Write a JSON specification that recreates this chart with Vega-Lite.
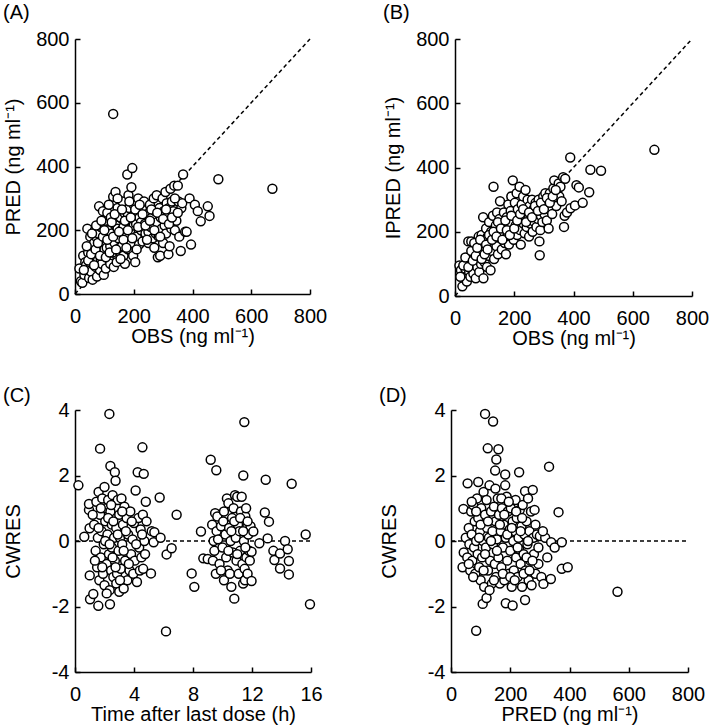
{
  "$schema": "https://vega.github.io/schema/vega-lite/v6.json",
  "background": "white",
  "padding": {"left": 3, "top": 3, "right": 5, "bottom": 5},
  "config": {
    "font": "Liberation Sans",
    "view": {"stroke": null},
    "axis": {"grid": false, "domainColor": "black", "domainWidth": 1.5, "tickColor": "black", "tickWidth": 1.5, "tickSize": -5, "labelFontSize": 20, "titleFontSize": 20, "labelColor": "black", "titleColor": "black", "titleFontWeight": "normal", "labelFont": "Liberation Sans", "titleFont": "Liberation Sans", "labelFlush": false},
    "axisX": {"labelPadding": 17, "minExtent": 30, "maxExtent": 30, "titlePadding": 2},
    "axisY": {"labelPadding": 11, "minExtent": 40, "maxExtent": 40, "titlePadding": 12},
    "title": {"fontSize": 20, "fontWeight": "normal", "anchor": "start", "frame": "bounds", "color": "black", "font": "Liberation Sans"}
  },
  "datasets": {
    "A": [
      {"OBS":15,"PRED":80},{"OBS":20,"PRED":40},{"OBS":25,"PRED":35},{"OBS":28,"PRED":120},{"OBS":32,"PRED":60},{"OBS":35,"PRED":100},{"OBS":38,"PRED":90},{"OBS":42,"PRED":205},{"OBS":45,"PRED":130},{"OBS":48,"PRED":50},{"OBS":50,"PRED":100},{"OBS":52,"PRED":180},{"OBS":55,"PRED":70},{"OBS":58,"PRED":150},{"OBS":60,"PRED":45},{"OBS":60,"PRED":125},{"OBS":62,"PRED":115},{"OBS":65,"PRED":160},{"OBS":68,"PRED":200},{"OBS":70,"PRED":85},{"OBS":72,"PRED":130},{"OBS":75,"PRED":55},{"OBS":75,"PRED":175},{"OBS":78,"PRED":105},{"OBS":80,"PRED":190},{"OBS":82,"PRED":275},{"OBS":84,"PRED":140},{"OBS":85,"PRED":75},{"OBS":88,"PRED":210},{"OBS":88,"PRED":110},{"OBS":90,"PRED":160},{"OBS":92,"PRED":95},{"OBS":95,"PRED":120},{"OBS":95,"PRED":260},{"OBS":98,"PRED":60},{"OBS":100,"PRED":180},{"OBS":100,"PRED":140},{"OBS":102,"PRED":230},{"OBS":105,"PRED":80},{"OBS":108,"PRED":145},{"OBS":110,"PRED":255},{"OBS":112,"PRED":200},{"OBS":115,"PRED":110},{"OBS":118,"PRED":165},{"OBS":120,"PRED":95},{"OBS":120,"PRED":150},{"OBS":122,"PRED":240},{"OBS":125,"PRED":190},{"OBS":128,"PRED":130},{"OBS":130,"PRED":305},{"OBS":130,"PRED":565},{"OBS":132,"PRED":85},{"OBS":135,"PRED":160},{"OBS":138,"PRED":320},{"OBS":140,"PRED":215},{"OBS":142,"PRED":100},{"OBS":145,"PRED":270},{"OBS":145,"PRED":205},{"OBS":148,"PRED":175},{"OBS":150,"PRED":135},{"OBS":152,"PRED":145},{"OBS":155,"PRED":240},{"OBS":158,"PRED":200},{"OBS":160,"PRED":150},{"OBS":162,"PRED":290},{"OBS":165,"PRED":120},{"OBS":165,"PRED":210},{"OBS":168,"PRED":255},{"OBS":170,"PRED":95},{"OBS":172,"PRED":180},{"OBS":175,"PRED":230},{"OBS":178,"PRED":375},{"OBS":180,"PRED":140},{"OBS":180,"PRED":250},{"OBS":182,"PRED":310},{"OBS":185,"PRED":270},{"OBS":188,"PRED":200},{"OBS":190,"PRED":160},{"OBS":192,"PRED":335},{"OBS":195,"PRED":395},{"OBS":198,"PRED":120},{"OBS":200,"PRED":280},{"OBS":200,"PRED":215},{"OBS":202,"PRED":250},{"OBS":205,"PRED":100},{"OBS":208,"PRED":220},{"OBS":210,"PRED":180},{"OBS":215,"PRED":300},{"OBS":218,"PRED":155},{"OBS":220,"PRED":240},{"OBS":225,"PRED":200},{"OBS":225,"PRED":225},{"OBS":228,"PRED":270},{"OBS":230,"PRED":165},{"OBS":235,"PRED":290},{"OBS":238,"PRED":220},{"OBS":240,"PRED":190},{"OBS":245,"PRED":250},{"OBS":250,"PRED":160},{"OBS":250,"PRED":195},{"OBS":255,"PRED":280},{"OBS":258,"PRED":210},{"OBS":262,"PRED":240},{"OBS":265,"PRED":175},{"OBS":268,"PRED":300},{"OBS":270,"PRED":145},{"OBS":272,"PRED":260},{"OBS":275,"PRED":190},{"OBS":278,"PRED":310},{"OBS":280,"PRED":225},{"OBS":282,"PRED":115},{"OBS":285,"PRED":180},{"OBS":288,"PRED":270},{"OBS":290,"PRED":120},{"OBS":292,"PRED":240},{"OBS":295,"PRED":205},{"OBS":298,"PRED":300},{"OBS":300,"PRED":160},{"OBS":302,"PRED":260},{"OBS":305,"PRED":215},{"OBS":308,"PRED":320},{"OBS":310,"PRED":190},{"OBS":312,"PRED":285},{"OBS":315,"PRED":245},{"OBS":318,"PRED":125},{"OBS":320,"PRED":270},{"OBS":322,"PRED":150},{"OBS":325,"PRED":330},{"OBS":328,"PRED":205},{"OBS":330,"PRED":290},{"OBS":335,"PRED":260},{"OBS":338,"PRED":340},{"OBS":340,"PRED":200},{"OBS":345,"PRED":230},{"OBS":350,"PRED":340},{"OBS":352,"PRED":290},{"OBS":355,"PRED":180},{"OBS":360,"PRED":135},{"OBS":362,"PRED":270},{"OBS":365,"PRED":285},{"OBS":368,"PRED":375},{"OBS":375,"PRED":195},{"OBS":380,"PRED":195},{"OBS":390,"PRED":300},{"OBS":395,"PRED":155},{"OBS":408,"PRED":280},{"OBS":418,"PRED":260},{"OBS":428,"PRED":228},{"OBS":452,"PRED":275},{"OBS":458,"PRED":245},{"OBS":488,"PRED":360},{"OBS":672,"PRED":330},
      {"OBS":30,"PRED":75},{"OBS":40,"PRED":150},{"OBS":45,"PRED":105},{"OBS":55,"PRED":125},{"OBS":58,"PRED":190},{"OBS":65,"PRED":90},{"OBS":70,"PRED":140},{"OBS":72,"PRED":215},{"OBS":78,"PRED":160},{"OBS":85,"PRED":120},{"OBS":90,"PRED":230},{"OBS":95,"PRED":180},{"OBS":100,"PRED":200},{"OBS":105,"PRED":115},{"OBS":110,"PRED":170},{"OBS":115,"PRED":280},{"OBS":118,"PRED":130},{"OBS":125,"PRED":225},{"OBS":130,"PRED":180},{"OBS":135,"PRED":250},{"OBS":140,"PRED":140},{"OBS":145,"PRED":300},{"OBS":150,"PRED":195},{"OBS":155,"PRED":110},{"OBS":160,"PRED":265},{"OBS":165,"PRED":170},{"OBS":170,"PRED":230},{"OBS":175,"PRED":145},{"OBS":180,"PRED":200},{"OBS":185,"PRED":290},{"OBS":190,"PRED":240},{"OBS":195,"PRED":175},{"OBS":205,"PRED":265},{"OBS":210,"PRED":140},{"OBS":215,"PRED":210},{"OBS":220,"PRED":280},{"OBS":230,"PRED":250},{"OBS":240,"PRED":215},{"OBS":245,"PRED":170},{"OBS":255,"PRED":230},{"OBS":260,"PRED":265},{"OBS":270,"PRED":200},{"OBS":280,"PRED":255},{"OBS":290,"PRED":180},{"OBS":300,"PRED":235},{"OBS":310,"PRED":265},{"OBS":320,"PRED":220},{"OBS":330,"PRED":240},{"OBS":340,"PRED":300},{"OBS":350,"PRED":255}
    ],
    "B": [
      {"OBS":15,"IPRED":95},{"OBS":20,"IPRED":80},{"OBS":25,"IPRED":30},{"OBS":30,"IPRED":60},{"OBS":35,"IPRED":85},{"OBS":40,"IPRED":45},{"OBS":42,"IPRED":110},{"OBS":45,"IPRED":170},{"OBS":48,"IPRED":75},{"OBS":50,"IPRED":120},{"OBS":52,"IPRED":60},{"OBS":55,"IPRED":170},{"OBS":58,"IPRED":95},{"OBS":60,"IPRED":140},{"OBS":62,"IPRED":70},{"OBS":65,"IPRED":105},{"OBS":68,"IPRED":130},{"OBS":70,"IPRED":55},{"OBS":72,"IPRED":160},{"OBS":75,"IPRED":90},{"OBS":78,"IPRED":120},{"OBS":80,"IPRED":185},{"OBS":82,"IPRED":75},{"OBS":85,"IPRED":145},{"OBS":88,"IPRED":100},{"OBS":90,"IPRED":190},{"OBS":92,"IPRED":130},{"OBS":95,"IPRED":245},{"OBS":96,"IPRED":55},{"OBS":98,"IPRED":170},{"OBS":100,"IPRED":105},{"OBS":102,"IPRED":150},{"OBS":105,"IPRED":210},{"OBS":108,"IPRED":90},{"OBS":110,"IPRED":185},{"OBS":112,"IPRED":125},{"OBS":115,"IPRED":230},{"OBS":118,"IPRED":165},{"OBS":120,"IPRED":80},{"OBS":122,"IPRED":200},{"OBS":125,"IPRED":140},{"OBS":128,"IPRED":250},{"OBS":130,"IPRED":340},{"OBS":132,"IPRED":115},{"OBS":135,"IPRED":175},{"OBS":138,"IPRED":220},{"OBS":140,"IPRED":155},{"OBS":142,"IPRED":260},{"OBS":145,"IPRED":130},{"OBS":148,"IPRED":200},{"OBS":150,"IPRED":240},{"OBS":152,"IPRED":295},{"OBS":155,"IPRED":180},{"OBS":158,"IPRED":145},{"OBS":160,"IPRED":225},{"OBS":162,"IPRED":200},{"OBS":165,"IPRED":260},{"OBS":168,"IPRED":165},{"OBS":170,"IPRED":210},{"OBS":172,"IPRED":130},{"OBS":175,"IPRED":245},{"OBS":178,"IPRED":190},{"OBS":180,"IPRED":285},{"OBS":182,"IPRED":160},{"OBS":185,"IPRED":225},{"OBS":188,"IPRED":265},{"OBS":190,"IPRED":310},{"OBS":192,"IPRED":200},{"OBS":195,"IPRED":360},{"OBS":198,"IPRED":175},{"OBS":200,"IPRED":250},{"OBS":202,"IPRED":290},{"OBS":205,"IPRED":220},{"OBS":208,"IPRED":320},{"OBS":210,"IPRED":190},{"OBS":212,"IPRED":270},{"OBS":215,"IPRED":240},{"OBS":218,"IPRED":340},{"OBS":220,"IPRED":205},{"OBS":222,"IPRED":160},{"OBS":225,"IPRED":285},{"OBS":228,"IPRED":250},{"OBS":230,"IPRED":310},{"OBS":232,"IPRED":225},{"OBS":235,"IPRED":195},{"OBS":238,"IPRED":330},{"OBS":240,"IPRED":265},{"OBS":242,"IPRED":215},{"OBS":245,"IPRED":300},{"OBS":248,"IPRED":240},{"OBS":250,"IPRED":185},{"OBS":252,"IPRED":280},{"OBS":255,"IPRED":225},{"OBS":258,"IPRED":255},{"OBS":260,"IPRED":300},{"OBS":262,"IPRED":200},{"OBS":265,"IPRED":270},{"OBS":268,"IPRED":230},{"OBS":270,"IPRED":250},{"OBS":272,"IPRED":290},{"OBS":275,"IPRED":215},{"OBS":278,"IPRED":265},{"OBS":280,"IPRED":240},{"OBS":282,"IPRED":300},{"OBS":285,"IPRED":170},{"OBS":286,"IPRED":127},{"OBS":288,"IPRED":205},{"OBS":290,"IPRED":250},{"OBS":292,"IPRED":275},{"OBS":295,"IPRED":230},{"OBS":298,"IPRED":310},{"OBS":300,"IPRED":290},{"OBS":302,"IPRED":255},{"OBS":305,"IPRED":320},{"OBS":308,"IPRED":280},{"OBS":310,"IPRED":235},{"OBS":312,"IPRED":300},{"OBS":316,"IPRED":210},{"OBS":318,"IPRED":270},{"OBS":320,"IPRED":320},{"OBS":325,"IPRED":295},{"OBS":328,"IPRED":255},{"OBS":332,"IPRED":335},{"OBS":335,"IPRED":360},{"OBS":338,"IPRED":300},{"OBS":342,"IPRED":280},{"OBS":345,"IPRED":320},{"OBS":350,"IPRED":350},{"OBS":352,"IPRED":310},{"OBS":356,"IPRED":340},{"OBS":360,"IPRED":295},{"OBS":365,"IPRED":370},{"OBS":368,"IPRED":215},{"OBS":370,"IPRED":250},{"OBS":372,"IPRED":365},{"OBS":378,"IPRED":260},{"OBS":390,"IPRED":273},{"OBS":389,"IPRED":431},{"OBS":405,"IPRED":282},{"OBS":410,"IPRED":345},{"OBS":418,"IPRED":338},{"OBS":431,"IPRED":290},{"OBS":453,"IPRED":323},{"OBS":457,"IPRED":393},{"OBS":493,"IPRED":390},{"OBS":673,"IPRED":455},
      {"OBS":18,"IPRED":60},{"OBS":28,"IPRED":95},{"OBS":35,"IPRED":120},{"OBS":45,"IPRED":90},{"OBS":55,"IPRED":140},{"OBS":60,"IPRED":110},{"OBS":65,"IPRED":165},{"OBS":70,"IPRED":125},{"OBS":75,"IPRED":150},{"OBS":85,"IPRED":175},{"OBS":90,"IPRED":115},{"OBS":100,"IPRED":130},{"OBS":105,"IPRED":160},{"OBS":110,"IPRED":145},{"OBS":115,"IPRED":190},{"OBS":125,"IPRED":175},{"OBS":130,"IPRED":200},{"OBS":140,"IPRED":185},{"OBS":145,"IPRED":230},{"OBS":155,"IPRED":210},{"OBS":160,"IPRED":175},{"OBS":170,"IPRED":235},{"OBS":175,"IPRED":205},{"OBS":185,"IPRED":190},{"OBS":190,"IPRED":250},{"OBS":200,"IPRED":210},{"OBS":210,"IPRED":235},{"OBS":220,"IPRED":255},{"OBS":230,"IPRED":270},{"OBS":240,"IPRED":230},{"OBS":250,"IPRED":260},{"OBS":260,"IPRED":245},{"OBS":270,"IPRED":280},{"OBS":280,"IPRED":265},{"OBS":290,"IPRED":290},{"OBS":300,"IPRED":270},{"OBS":310,"IPRED":305},{"OBS":320,"IPRED":290},{"OBS":330,"IPRED":310},{"OBS":340,"IPRED":330}
    ],
    "C": [
      {"TIME":0.23,"CWRES":1.7},{"TIME":0.63,"CWRES":0.13},{"TIME":0.99,"CWRES":0.39},{"TIME":0.95,"CWRES":0.95},{"TIME":0.95,"CWRES":1.13},{"TIME":1.02,"CWRES":-1.78},{"TIME":1.0,"CWRES":-1.05},{"TIME":1.24,"CWRES":-1.62},{"TIME":1.3,"CWRES":0.5},{"TIME":1.4,"CWRES":-0.3},{"TIME":1.45,"CWRES":1.2},{"TIME":1.5,"CWRES":-0.8},{"TIME":1.55,"CWRES":0.1},{"TIME":1.58,"CWRES":-1.98},{"TIME":1.6,"CWRES":1.5},{"TIME":1.65,"CWRES":-1.2},{"TIME":1.7,"CWRES":2.82},{"TIME":1.7,"CWRES":0.8},{"TIME":1.75,"CWRES":-0.5},{"TIME":1.8,"CWRES":0.3},{"TIME":1.85,"CWRES":1.3},{"TIME":1.9,"CWRES":-1.0},{"TIME":1.95,"CWRES":-0.1},{"TIME":2.0,"CWRES":1.65},{"TIME":2.0,"CWRES":-1.35},{"TIME":2.05,"CWRES":0.6},{"TIME":2.1,"CWRES":1.0},{"TIME":2.15,"CWRES":-0.7},{"TIME":2.2,"CWRES":0.2},{"TIME":2.25,"CWRES":1.25},{"TIME":2.3,"CWRES":-0.4},{"TIME":2.33,"CWRES":3.88},{"TIME":2.35,"CWRES":-1.5},{"TIME":2.37,"CWRES":-1.93},{"TIME":2.4,"CWRES":2.29},{"TIME":2.4,"CWRES":0.9},{"TIME":2.45,"CWRES":-0.9},{"TIME":2.5,"CWRES":0.5},{"TIME":2.5,"CWRES":-0.2},{"TIME":2.55,"CWRES":1.4},{"TIME":2.6,"CWRES":-1.1},{"TIME":2.65,"CWRES":0.1},{"TIME":2.7,"CWRES":2.1},{"TIME":2.7,"CWRES":-0.6},{"TIME":2.75,"CWRES":1.84},{"TIME":2.8,"CWRES":0.4},{"TIME":2.8,"CWRES":-1.3},{"TIME":2.85,"CWRES":-1.0},{"TIME":2.9,"CWRES":1.25},{"TIME":2.95,"CWRES":-0.3},{"TIME":3.0,"CWRES":0.8},{"TIME":3.0,"CWRES":-1.55},{"TIME":3.05,"CWRES":0.1},{"TIME":3.1,"CWRES":-0.85},{"TIME":3.15,"CWRES":1.3},{"TIME":3.2,"CWRES":-0.1},{"TIME":3.25,"CWRES":0.5},{"TIME":3.3,"CWRES":-1.45},{"TIME":3.35,"CWRES":1.05},{"TIME":3.4,"CWRES":-0.6},{"TIME":3.5,"CWRES":0.7},{"TIME":3.55,"CWRES":-1.2},{"TIME":3.6,"CWRES":0.2},{"TIME":3.7,"CWRES":-0.9},{"TIME":3.75,"CWRES":0.9},{"TIME":3.8,"CWRES":-0.4},{"TIME":3.9,"CWRES":0.05},{"TIME":3.95,"CWRES":-1.0},{"TIME":4.0,"CWRES":0.55},{"TIME":4.05,"CWRES":-0.6},{"TIME":4.11,"CWRES":1.54},{"TIME":4.2,"CWRES":-1.25},{"TIME":4.25,"CWRES":2.1},{"TIME":4.3,"CWRES":0.7},{"TIME":4.35,"CWRES":-0.2},{"TIME":4.4,"CWRES":-0.9},{"TIME":4.45,"CWRES":0.35},{"TIME":4.5,"CWRES":-0.5},{"TIME":4.57,"CWRES":2.86},{"TIME":4.6,"CWRES":0.8},{"TIME":4.62,"CWRES":-0.85},{"TIME":4.66,"CWRES":2.05},{"TIME":4.7,"CWRES":0.0},{"TIME":4.75,"CWRES":-0.4},{"TIME":4.8,"CWRES":1.2},{"TIME":4.85,"CWRES":0.6},{"TIME":5.15,"CWRES":-0.99},{"TIME":5.2,"CWRES":0.3},{"TIME":5.33,"CWRES":-0.04},{"TIME":5.38,"CWRES":0.27},{"TIME":5.74,"CWRES":1.33},{"TIME":5.8,"CWRES":0.1},{"TIME":6.17,"CWRES":-2.76},{"TIME":6.21,"CWRES":-0.41},{"TIME":6.55,"CWRES":-0.22},{"TIME":6.89,"CWRES":0.8},
      {"TIME":7.91,"CWRES":-0.99},{"TIME":8.09,"CWRES":-1.4},{"TIME":8.54,"CWRES":0.29},{"TIME":8.7,"CWRES":-0.53},{"TIME":9.0,"CWRES":-0.55},{"TIME":9.2,"CWRES":2.48},{"TIME":9.58,"CWRES":2.16},
      {"TIME":9.3,"CWRES":0.5},{"TIME":9.35,"CWRES":-0.6},{"TIME":9.4,"CWRES":0.0},{"TIME":9.45,"CWRES":-0.3},{"TIME":9.5,"CWRES":0.85},{"TIME":9.55,"CWRES":-1.0},{"TIME":9.6,"CWRES":0.3},{"TIME":9.65,"CWRES":0.75},{"TIME":9.7,"CWRES":0.05},{"TIME":9.8,"CWRES":-0.7},{"TIME":9.9,"CWRES":0.45},{"TIME":10.0,"CWRES":-0.2},{"TIME":10.05,"CWRES":0.6},{"TIME":10.1,"CWRES":-1.2},{"TIME":10.2,"CWRES":0.2},{"TIME":10.25,"CWRES":-0.5},{"TIME":10.3,"CWRES":1.3},{"TIME":10.35,"CWRES":-0.9},{"TIME":10.4,"CWRES":1.15},{"TIME":10.45,"CWRES":0.4},{"TIME":10.5,"CWRES":-1.0},{"TIME":10.55,"CWRES":0.0},{"TIME":10.6,"CWRES":-1.4},{"TIME":10.65,"CWRES":0.7},{"TIME":10.7,"CWRES":-0.35},{"TIME":10.75,"CWRES":1.0},{"TIME":10.8,"CWRES":-1.76},{"TIME":10.85,"CWRES":1.4},{"TIME":10.9,"CWRES":0.1},{"TIME":10.95,"CWRES":-0.6},{"TIME":11.0,"CWRES":1.35},{"TIME":11.05,"CWRES":0.5},{"TIME":11.1,"CWRES":-1.0},{"TIME":11.15,"CWRES":0.3},{"TIME":11.2,"CWRES":-0.3},{"TIME":11.25,"CWRES":0.9},{"TIME":11.3,"CWRES":1.35},{"TIME":11.35,"CWRES":-0.7},{"TIME":11.4,"CWRES":-1.3},{"TIME":11.41,"CWRES":2.0},{"TIME":11.45,"CWRES":0.0},{"TIME":11.48,"CWRES":3.63},{"TIME":11.5,"CWRES":-0.85},{"TIME":11.52,"CWRES":-1.2},{"TIME":11.55,"CWRES":0.75},{"TIME":11.6,"CWRES":1.0},{"TIME":11.62,"CWRES":-0.5},{"TIME":11.65,"CWRES":0.4},{"TIME":11.7,"CWRES":-1.0},{"TIME":11.75,"CWRES":0.2},{"TIME":11.8,"CWRES":-0.3},{"TIME":11.9,"CWRES":0.45},{"TIME":11.97,"CWRES":-0.33},{"TIME":11.97,"CWRES":-1.22},{"TIME":12.09,"CWRES":0.29},{"TIME":12.5,"CWRES":-0.07},
      {"TIME":12.87,"CWRES":0.87},{"TIME":12.93,"CWRES":1.87},{"TIME":13.06,"CWRES":0.08},{"TIME":13.15,"CWRES":0.59},{"TIME":13.45,"CWRES":-0.3},{"TIME":13.52,"CWRES":-0.58},{"TIME":13.9,"CWRES":-0.84},{"TIME":13.9,"CWRES":-0.38},{"TIME":14.24,"CWRES":0.0},{"TIME":14.42,"CWRES":-0.25},{"TIME":14.5,"CWRES":-0.61},{"TIME":14.5,"CWRES":-1.02},{"TIME":14.69,"CWRES":1.75},{"TIME":15.64,"CWRES":0.2},{"TIME":15.93,"CWRES":-1.93},
      {"TIME":1.2,"CWRES":0.8},{"TIME":1.35,"CWRES":-0.6},{"TIME":1.6,"CWRES":0.4},{"TIME":1.75,"CWRES":1.0},{"TIME":1.85,"CWRES":-0.8},{"TIME":2.05,"CWRES":0.0},{"TIME":2.15,"CWRES":-1.6},{"TIME":2.25,"CWRES":0.7},{"TIME":2.35,"CWRES":-0.1},{"TIME":2.45,"CWRES":1.1},{"TIME":2.55,"CWRES":-0.5},{"TIME":2.6,"CWRES":0.6},{"TIME":2.75,"CWRES":-0.8},{"TIME":2.9,"CWRES":0.2},{"TIME":3.05,"CWRES":-1.2},{"TIME":3.2,"CWRES":0.9},{"TIME":3.3,"CWRES":-0.3},{"TIME":3.45,"CWRES":0.3},{"TIME":3.65,"CWRES":-0.7},{"TIME":3.85,"CWRES":0.6},{"TIME":4.15,"CWRES":-0.1},{"TIME":4.55,"CWRES":0.2},
      {"TIME":9.9,"CWRES":-0.9},{"TIME":10.1,"CWRES":0.9},{"TIME":10.4,"CWRES":-0.3},{"TIME":10.6,"CWRES":0.3},{"TIME":10.8,"CWRES":0.6},{"TIME":11.0,"CWRES":-0.4},{"TIME":11.2,"CWRES":0.7},{"TIME":11.4,"CWRES":0.3},{"TIME":11.55,"CWRES":-0.2},{"TIME":11.7,"CWRES":0.6},{"TIME":11.85,"CWRES":-0.6}
    ],
    "D": [
      {"PRED":42,"CWRES":0.98},{"PRED":39,"CWRES":-0.8},{"PRED":43,"CWRES":-0.35},{"PRED":50,"CWRES":0.1},{"PRED":55,"CWRES":-0.5},{"PRED":56,"CWRES":1.76},{"PRED":60,"CWRES":0.4},{"PRED":62,"CWRES":-0.1},{"PRED":65,"CWRES":-0.9},{"PRED":68,"CWRES":0.9},{"PRED":70,"CWRES":0.2},{"PRED":72,"CWRES":-0.6},{"PRED":75,"CWRES":1.1},{"PRED":78,"CWRES":-0.2},{"PRED":80,"CWRES":0.6},{"PRED":82,"CWRES":-1.0},{"PRED":85,"CWRES":-2.74},{"PRED":85,"CWRES":0.0},{"PRED":88,"CWRES":1.3},{"PRED":90,"CWRES":-0.4},{"PRED":92,"CWRES":1.8},{"PRED":92,"CWRES":0.7},{"PRED":95,"CWRES":-0.8},{"PRED":98,"CWRES":0.3},{"PRED":100,"CWRES":-1.2},{"PRED":102,"CWRES":1.0},{"PRED":105,"CWRES":-0.5},{"PRED":107,"CWRES":-1.92},{"PRED":108,"CWRES":0.0},{"PRED":110,"CWRES":1.5},{"PRED":112,"CWRES":-1.4},{"PRED":115,"CWRES":3.88},{"PRED":115,"CWRES":0.8},{"PRED":118,"CWRES":-0.2},{"PRED":120,"CWRES":-1.74},{"PRED":120,"CWRES":1.25},{"PRED":122,"CWRES":0.4},{"PRED":124,"CWRES":2.83},{"PRED":125,"CWRES":-0.9},{"PRED":128,"CWRES":0.1},{"PRED":130,"CWRES":1.7},{"PRED":132,"CWRES":-0.6},{"PRED":135,"CWRES":0.9},{"PRED":138,"CWRES":-1.3},{"PRED":140,"CWRES":0.3},{"PRED":142,"CWRES":3.65},{"PRED":142,"CWRES":-0.1},{"PRED":145,"CWRES":1.05},{"PRED":148,"CWRES":-0.7},{"PRED":149,"CWRES":2.15},{"PRED":150,"CWRES":0.6},{"PRED":152,"CWRES":-1.1},{"PRED":153,"CWRES":2.49},{"PRED":155,"CWRES":0.05},{"PRED":158,"CWRES":1.3},{"PRED":160,"CWRES":2.8},{"PRED":160,"CWRES":-0.5},{"PRED":162,"CWRES":0.8},{"PRED":165,"CWRES":-1.3},{"PRED":168,"CWRES":0.3},{"PRED":170,"CWRES":-0.8},{"PRED":172,"CWRES":1.0},{"PRED":175,"CWRES":-0.2},{"PRED":178,"CWRES":0.5},{"PRED":180,"CWRES":-1.2},{"PRED":183,"CWRES":2.03},{"PRED":183,"CWRES":1.7},{"PRED":185,"CWRES":-1.9},{"PRED":185,"CWRES":0.1},{"PRED":188,"CWRES":1.35},{"PRED":190,"CWRES":-0.6},{"PRED":192,"CWRES":0.9},{"PRED":195,"CWRES":-1.0},{"PRED":198,"CWRES":0.35},{"PRED":200,"CWRES":-0.3},{"PRED":202,"CWRES":1.0},{"PRED":205,"CWRES":-1.4},{"PRED":208,"CWRES":-1.97},{"PRED":208,"CWRES":0.6},{"PRED":210,"CWRES":0.0},{"PRED":212,"CWRES":-0.9},{"PRED":215,"CWRES":0.3},{"PRED":218,"CWRES":1.25},{"PRED":220,"CWRES":-0.5},{"PRED":222,"CWRES":0.7},{"PRED":225,"CWRES":-1.1},{"PRED":228,"CWRES":0.1},{"PRED":230,"CWRES":2.1},{"PRED":230,"CWRES":-0.25},{"PRED":232,"CWRES":0.95},{"PRED":235,"CWRES":-0.7},{"PRED":238,"CWRES":0.45},{"PRED":240,"CWRES":-1.4},{"PRED":242,"CWRES":1.1},{"PRED":245,"CWRES":-0.4},{"PRED":248,"CWRES":0.2},{"PRED":250,"CWRES":1.52},{"PRED":250,"CWRES":-1.8},{"PRED":252,"CWRES":-0.9},{"PRED":255,"CWRES":0.6},{"PRED":258,"CWRES":-0.1},{"PRED":260,"CWRES":1.3},{"PRED":262,"CWRES":-1.2},{"PRED":265,"CWRES":0.3},{"PRED":268,"CWRES":-0.6},{"PRED":270,"CWRES":0.9},{"PRED":272,"CWRES":-1.35},{"PRED":276,"CWRES":1.56},{"PRED":278,"CWRES":0.1},{"PRED":280,"CWRES":-0.4},{"PRED":282,"CWRES":0.95},{"PRED":285,"CWRES":-1.0},{"PRED":290,"CWRES":0.2},{"PRED":295,"CWRES":-0.7},{"PRED":300,"CWRES":0.15},{"PRED":305,"CWRES":-1.1},{"PRED":312,"CWRES":-1.31},{"PRED":318,"CWRES":0.1},{"PRED":325,"CWRES":-0.5},{"PRED":331,"CWRES":2.27},{"PRED":337,"CWRES":-1.16},{"PRED":338,"CWRES":-0.04},{"PRED":350,"CWRES":-0.2},{"PRED":363,"CWRES":0.88},{"PRED":374,"CWRES":-0.04},{"PRED":374,"CWRES":-0.85},{"PRED":394,"CWRES":-0.8},{"PRED":562,"CWRES":-1.55},
      {"PRED":60,"CWRES":-0.7},{"PRED":70,"CWRES":1.2},{"PRED":75,"CWRES":-1.1},{"PRED":85,"CWRES":0.9},{"PRED":95,"CWRES":0.1},{"PRED":100,"CWRES":0.5},{"PRED":110,"CWRES":-0.9},{"PRED":115,"CWRES":-0.4},{"PRED":125,"CWRES":0.6},{"PRED":130,"CWRES":-1.5},{"PRED":135,"CWRES":0.0},{"PRED":145,"CWRES":-1.2},{"PRED":150,"CWRES":1.6},{"PRED":155,"CWRES":-0.3},{"PRED":165,"CWRES":0.5},{"PRED":170,"CWRES":1.3},{"PRED":175,"CWRES":-1.0},{"PRED":180,"CWRES":0.8},{"PRED":190,"CWRES":0.2},{"PRED":195,"CWRES":1.2},{"PRED":200,"CWRES":-1.1},{"PRED":205,"CWRES":0.4},{"PRED":215,"CWRES":-1.2},{"PRED":220,"CWRES":0.9},{"PRED":225,"CWRES":-0.2},{"PRED":235,"CWRES":0.3},{"PRED":240,"CWRES":0.7},{"PRED":245,"CWRES":-1.0},{"PRED":255,"CWRES":-0.5},{"PRED":260,"CWRES":0.0},{"PRED":265,"CWRES":-0.9},{"PRED":275,"CWRES":-0.6},{"PRED":285,"CWRES":0.5},{"PRED":295,"CWRES":-0.2},{"PRED":310,"CWRES":0.3}
    ],
    "diag": [{"OBS":0,"PRED":0,"IPRED":0},{"OBS":800,"PRED":800,"IPRED":800}],
    "zeroT": [{"TIME":0,"CWRES":0},{"TIME":16,"CWRES":0}],
    "zeroP": [{"PRED":0,"CWRES":0},{"PRED":800,"CWRES":0}]
  },
  "spacing": 38,
  "vconcat": [
    {
      "spacing": 56,
      "hconcat": [
        {
          "title": {"text": "(A)", "offset": 6},
          "width": 235, "height": 255,
          "layer": [
            {"data": {"name": "diag"}, "mark": {"type": "line", "color": "black", "strokeWidth": 1.5, "strokeDash": [4, 3]},
             "encoding": {"x": {"field": "OBS", "type": "quantitative", "scale": {"domain": [0, 800], "nice": false}, "axis": {"title": "OBS (ng ml⁻¹)", "values": [0, 200, 400, 600, 800]}},
                          "y": {"field": "PRED", "type": "quantitative", "scale": {"domain": [0, 800], "nice": false}, "axis": {"title": "PRED (ng ml⁻¹)", "values": [0, 200, 400, 600, 800]}}}},
            {"data": {"name": "A"}, "mark": {"type": "point", "shape": "circle", "size": 80, "filled": true, "fill": "white", "stroke": "black", "strokeWidth": 1.5, "opacity": 1},
             "encoding": {"x": {"field": "OBS", "type": "quantitative", "axis": {"title": "OBS (ng ml⁻¹)", "values": [0, 200, 400, 600, 800]}},
                          "y": {"field": "PRED", "type": "quantitative", "axis": {"title": "PRED (ng ml⁻¹)", "values": [0, 200, 400, 600, 800]}}}}
          ]
        },
        {
          "title": {"text": "(B)", "offset": 6},
          "width": 237, "height": 257,
          "layer": [
            {"data": {"name": "diag"}, "mark": {"type": "line", "color": "black", "strokeWidth": 1.5, "strokeDash": [4, 3]},
             "encoding": {"x": {"field": "OBS", "type": "quantitative", "scale": {"domain": [0, 800], "nice": false}, "axis": {"title": "OBS (ng ml⁻¹)", "values": [0, 200, 400, 600, 800]}},
                          "y": {"field": "IPRED", "type": "quantitative", "scale": {"domain": [0, 800], "nice": false}, "axis": {"title": "IPRED (ng ml⁻¹)", "values": [0, 200, 400, 600, 800]}}}},
            {"data": {"name": "B"}, "mark": {"type": "point", "shape": "circle", "size": 80, "filled": true, "fill": "white", "stroke": "black", "strokeWidth": 1.5, "opacity": 1},
             "encoding": {"x": {"field": "OBS", "type": "quantitative", "axis": {"title": "OBS (ng ml⁻¹)", "values": [0, 200, 400, 600, 800]}},
                          "y": {"field": "IPRED", "type": "quantitative", "axis": {"title": "IPRED (ng ml⁻¹)", "values": [0, 200, 400, 600, 800]}}}}
          ]
        }
      ]
    },
    {
      "spacing": 56,
      "hconcat": [
        {
          "title": {"text": "(C)", "offset": -6},
          "width": 236, "height": 262,
          "layer": [
            {"data": {"name": "zeroT"}, "mark": {"type": "line", "color": "black", "strokeWidth": 1.5, "strokeDash": [4, 3]},
             "encoding": {"x": {"field": "TIME", "type": "quantitative", "scale": {"domain": [0, 16], "nice": false}, "axis": {"title": "Time after last dose (h)", "values": [0, 4, 8, 12, 16]}},
                          "y": {"field": "CWRES", "type": "quantitative", "scale": {"domain": [-4, 4], "nice": false}, "axis": {"title": "CWRES", "values": [-4, -2, 0, 2, 4], "labelExpr": "'' + datum.value"}}}},
            {"data": {"name": "C"}, "mark": {"type": "point", "shape": "circle", "size": 80, "filled": true, "fill": "white", "stroke": "black", "strokeWidth": 1.5, "opacity": 1},
             "encoding": {"x": {"field": "TIME", "type": "quantitative", "axis": {"title": "Time after last dose (h)", "values": [0, 4, 8, 12, 16]}},
                          "y": {"field": "CWRES", "type": "quantitative", "axis": {"title": "CWRES", "values": [-4, -2, 0, 2, 4], "labelExpr": "'' + datum.value"}}}}
          ]
        },
        {
          "title": {"text": "(D)", "offset": -6},
          "width": 237, "height": 262,
          "layer": [
            {"data": {"name": "zeroP"}, "mark": {"type": "line", "color": "black", "strokeWidth": 1.5, "strokeDash": [4, 3]},
             "encoding": {"x": {"field": "PRED", "type": "quantitative", "scale": {"domain": [0, 800], "nice": false}, "axis": {"title": "PRED (ng ml⁻¹)", "values": [0, 200, 400, 600, 800]}},
                          "y": {"field": "CWRES", "type": "quantitative", "scale": {"domain": [-4, 4], "nice": false}, "axis": {"title": "CWRES", "values": [-4, -2, 0, 2, 4], "labelExpr": "'' + datum.value"}}}},
            {"data": {"name": "D"}, "mark": {"type": "point", "shape": "circle", "size": 80, "filled": true, "fill": "white", "stroke": "black", "strokeWidth": 1.5, "opacity": 1},
             "encoding": {"x": {"field": "PRED", "type": "quantitative", "axis": {"title": "PRED (ng ml⁻¹)", "values": [0, 200, 400, 600, 800]}},
                          "y": {"field": "CWRES", "type": "quantitative", "axis": {"title": "CWRES", "values": [-4, -2, 0, 2, 4], "labelExpr": "'' + datum.value"}}}}
          ]
        }
      ]
    }
  ]
}
